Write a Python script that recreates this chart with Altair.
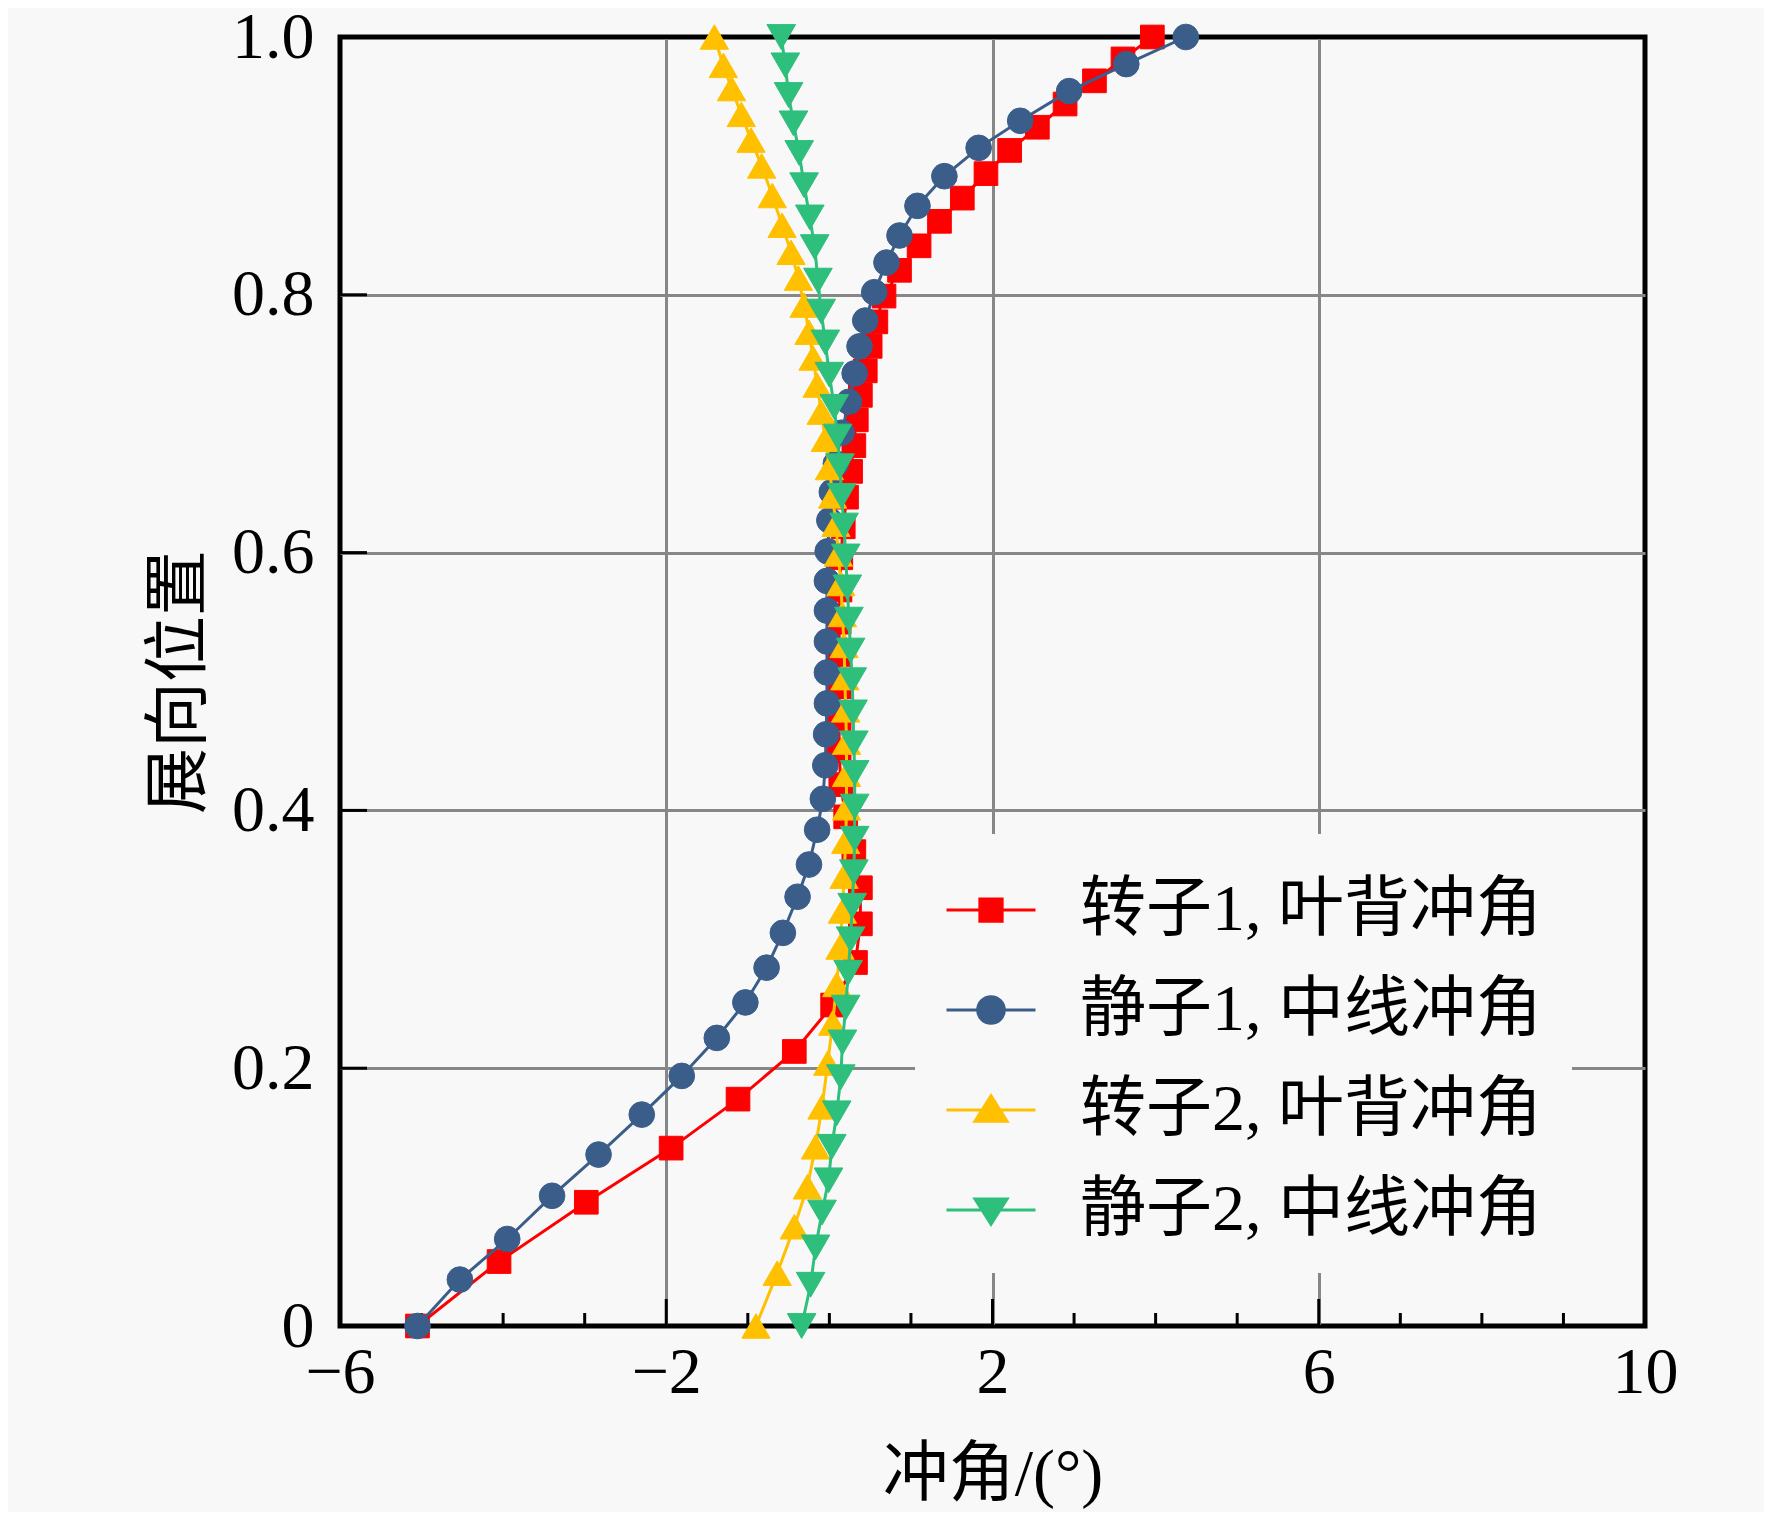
import altair as alt
import pandas as pd

# ---------------- data ----------------
names = ["转子1, 叶背冲角", "静子1, 中线冲角", "转子2, 叶背冲角", "静子2, 中线冲角"]
colors = ["#ff0000", "#3b5d8a", "#ffc000", "#2dbf7b"]
shapes = ["square", "circle", "triangle-up", "triangle-down"]
sizes = [560, 660, 800, 820]

r1_span = [0, 0.05, 0.096, 0.138, 0.176, 0.213, 0.249, 0.282, 0.312, 0.340, 0.368,
           0.395, 0.420, 0.446, 0.471, 0.496, 0.521, 0.546, 0.571, 0.596, 0.620,
           0.643, 0.663, 0.683, 0.703, 0.722, 0.741, 0.760, 0.779, 0.799, 0.819,
           0.838, 0.857, 0.875, 0.894, 0.912, 0.930, 0.948, 0.966, 0.983, 1.0]
r1_angle = [-5.05, -4.05, -2.98, -1.94, -1.12, -0.43, 0.04, 0.32, 0.38, 0.38, 0.30,
            0.20, 0.14, 0.12, 0.12, 0.12, 0.12, 0.12, 0.13, 0.14, 0.17,
            0.21, 0.26, 0.30, 0.33, 0.38, 0.44, 0.50, 0.57, 0.67, 0.86,
            1.10, 1.35, 1.63, 1.92, 2.21, 2.55, 2.89, 3.25, 3.60, 3.96]

s1_span = [0, 0.036, 0.0675, 0.101, 0.133, 0.164, 0.194, 0.2235, 0.251, 0.278, 0.305,
           0.333, 0.358, 0.385, 0.409, 0.435, 0.459, 0.483, 0.507, 0.531, 0.555,
           0.578, 0.601, 0.625, 0.647, 0.669, 0.693, 0.717, 0.739, 0.760, 0.780,
           0.802, 0.825, 0.846, 0.869, 0.892, 0.914, 0.935, 0.958, 0.979, 1.0]
s1_angle = [-5.05, -4.53, -3.95, -3.40, -2.83, -2.30, -1.81, -1.38, -1.03, -0.77, -0.57,
            -0.39, -0.25, -0.15, -0.08, -0.05, -0.04, -0.03, -0.03, -0.03, -0.03,
            -0.03, -0.02, 0.00, 0.03, 0.08, 0.15, 0.24, 0.31, 0.37, 0.44,
            0.55, 0.70, 0.86, 1.08, 1.41, 1.83, 2.34, 2.94, 3.64, 4.37]

r2_span = [0, 0.041, 0.077, 0.108, 0.139, 0.170, 0.204, 0.235, 0.265, 0.294, 0.322,
           0.349, 0.376, 0.402, 0.428, 0.453, 0.478, 0.503, 0.528, 0.552, 0.576,
           0.599, 0.622, 0.644, 0.666, 0.688, 0.709, 0.730, 0.751, 0.771, 0.792,
           0.813, 0.833, 0.854, 0.877, 0.900, 0.920, 0.940, 0.960, 0.978, 1.0]
r2_angle = [-0.90, -0.64, -0.43, -0.27, -0.17, -0.09, -0.02, 0.04, 0.09, 0.13, 0.16,
            0.18, 0.20, 0.21, 0.21, 0.21, 0.20, 0.19, 0.18, 0.16, 0.14,
            0.11, 0.08, 0.04, 0.00, -0.05, -0.10, -0.15, -0.20, -0.25, -0.31,
            -0.38, -0.47, -0.58, -0.70, -0.83, -0.96, -1.08, -1.20, -1.30, -1.41]

s2_span = [0, 0.032, 0.061, 0.088, 0.113, 0.139, 0.165, 0.193, 0.220, 0.247, 0.274,
           0.300, 0.326, 0.352, 0.378, 0.403, 0.429, 0.452, 0.476, 0.501, 0.524,
           0.548, 0.573, 0.597, 0.621, 0.644, 0.667, 0.690, 0.713, 0.738, 0.763,
           0.787, 0.811, 0.837, 0.860, 0.885, 0.910, 0.933, 0.955, 0.978, 1.0]
s2_angle = [-0.34, -0.23, -0.17, -0.09, -0.01, 0.03, 0.09, 0.14, 0.16, 0.20, 0.23,
            0.26, 0.28, 0.30, 0.31, 0.31, 0.31, 0.30, 0.29, 0.28, 0.26,
            0.24, 0.22, 0.20, 0.18, 0.15, 0.13, 0.10, 0.06, 0.00, -0.05,
            -0.10, -0.14, -0.18, -0.24, -0.31, -0.37, -0.44, -0.50, -0.54, -0.59]

x_major = [-6, -2, 2, 6, 10]
x_major_inner = [-2, 2, 6]
x_minor = [-5, -4, -3, -1, 0, 1, 3, 4, 5, 7, 8, 9]
y_major = [0, 0.2, 0.4, 0.6, 0.8, 1.0]
y_major_inner = [0.2, 0.4, 0.6, 0.8]

# ---------------- build table ----------------
series_data = [(r1_angle, r1_span), (s1_angle, s1_span), (r2_angle, r2_span), (s2_angle, s2_span)]
rows = []
for name, (xs, ys) in zip(names, series_data):
    for i, (a, s) in enumerate(zip(xs, ys)):
        rows.append({"series": name, "angle": a, "span": s, "idx": i})
df = pd.DataFrame(rows)

W, H = 1305, 1289
SERIF = "Liberation Serif, Noto Sans CJK SC"
GRID = "#878787"

x_scale = alt.Scale(domain=[-6, 10], nice=False, zero=False)
y_scale = alt.Scale(domain=[0, 1], nice=False, zero=False)
col_scale = alt.Scale(domain=names, range=colors)

# legend symbols: a short line segment with the marker on it
legend_paths = [
    "M-1,0H1M-0.25,-0.25H0.25V0.25H-0.25Z",
    "M-1,0H1M0.3,0A0.3,0.3,0,1,1,-0.3,0A0.3,0.3,0,1,1,0.3,0Z",
    "M-1,0H1M0,-0.32L0.36,0.25L-0.36,0.25Z",
    "M-1,0H1M0,0.32L0.36,-0.25L-0.36,-0.25Z",
]
legend_shape_scale = alt.Scale(domain=names, range=legend_paths)

legend = alt.Legend(
    title=None, orient="none", legendX=575, legendY=797,
    labelFont=SERIF, labelFontSize=66, labelColor="black", labelOffset=43,
    labelLimit=1200, symbolOpacity=1,
    labelExpr="datum.label + '\u2003\u2002'",
    symbolSize=7921, symbolStrokeWidth=3, rowPadding=21, padding=30,
    fillColor="#f8f8f8",
)

border_x = {"condition": {"test": "datum.value == -6 || datum.value == 10", "value": "black"},
            "value": GRID}
border_y = {"condition": {"test": "datum.value == 0 || datum.value == 1", "value": "black"},
            "value": GRID}

x_axis = alt.Axis(
    values=x_major, title="冲角/(°)", grid=True, gridColor=border_x, gridWidth=3,
    ticks=False, domain=False, labelFont=SERIF, labelFontSize=66, labelColor="black",
    labelPadding=14, labelFlush=False, labelOverlap=False,
    labelExpr="datum.value < 0 ? '−' + format(-datum.value, 'd') : format(datum.value, 'd')",
    titleFont=SERIF, titleFontSize=66, titleFontWeight="normal", titleColor="black",
    titlePadding=37,
)
y_axis = alt.Axis(
    values=y_major, title="展向位置", grid=True, gridColor=border_y, gridWidth=3,
    ticks=False, domain=False, labelFont=SERIF, labelFontSize=66, labelColor="black",
    labelPadding=26, labelFlush=False, labelOverlap=False,
    labelExpr="datum.value == 0 ? '0' : format(datum.value, '.1f')",
    titleFont=SERIF, titleFontSize=66, titleFontWeight="normal", titleColor="black",
    titlePadding=18,
)

X = alt.X("angle:Q", scale=x_scale, axis=x_axis)
Y = alt.Y("span:Q", scale=y_scale, axis=y_axis)
FILL = alt.Fill("series:N", scale=col_scale, legend=legend)
STROKE = alt.Stroke("series:N", scale=col_scale, legend=legend)

base = alt.Chart(df)

# legend carrier layer (first): rows filtered out, legend comes from the scales
legend_layer = base.transform_filter(alt.datum.span > 5).mark_point(
    filled=True, strokeWidth=3).encode(
    x=X, y=Y, fill=FILL, stroke=STROKE,
    shape=alt.Shape("series:N", scale=legend_shape_scale, legend=legend),
)

layers = []
for i, name in enumerate(names):
    sub = base.transform_filter(alt.datum.series == name)
    line = sub.mark_line(strokeWidth=3).encode(
        x=X, y=Y, order=alt.Order("idx:Q"), stroke=STROKE,
    )
    pts = sub.mark_point(filled=True, shape=shapes[i], size=sizes[i],
                         strokeWidth=1, opacity=1).encode(
        x=X, y=Y, fill=FILL, stroke=STROKE,
    )
    layers += [line, pts]

tick_x_maj = pd.DataFrame({"angle": x_major_inner})
tick_x_min = pd.DataFrame({"angle": x_minor})
tick_y_maj = pd.DataFrame({"span": y_major_inner})

xmaj_ticks = alt.Chart(tick_x_maj).mark_rule(color="black", strokeWidth=3).encode(
    x=X, y=alt.value(H), y2=alt.value(H - 27))
xmin_ticks = alt.Chart(tick_x_min).mark_rule(color="black", strokeWidth=3).encode(
    x=X, y=alt.value(H), y2=alt.value(H - 13))
ymaj_ticks = alt.Chart(tick_y_maj).mark_rule(color="black", strokeWidth=3).encode(
    y=Y, x=alt.value(0), x2=alt.value(27))

chart = alt.layer(legend_layer, xmaj_ticks, xmin_ticks, ymaj_ticks, *layers).properties(
    width=W, height=H,
    padding={"left": 332, "top": 29, "right": 119, "bottom": 186},
    autosize=alt.AutoSizeParams(type="none"),
).configure(background="#f8f8f8").configure_view(
    stroke="black", strokeWidth=5
)

chart.save("out.html", embed_options={"renderer": "svg", "actions": False})
